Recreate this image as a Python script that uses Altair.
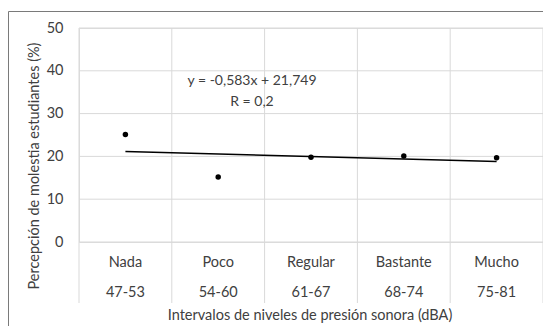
import altair as alt
import pandas as pd

categories = ["Nada", "Poco", "Regular", "Bastante", "Mucho"]
ranges = ["47-53", "54-60", "61-67", "68-74", "75-81"]
positions = [1, 2, 3, 4, 5]
values = [25.1, 15.2, 19.8, 20.1, 19.7]
boundaries = [0.5, 1.5, 2.5, 3.5, 4.5, 5.5]
y_ticks = [0, 10, 20, 30, 40, 50]
equation = "y = -0,583x + 21,749"
r_text = "R = 0,2"
x_title = "Intervalos de niveles de presión sonora (dBA)"
y_title = "Percepción de molestia estudiantes (%)"

FONT = "Lato"
TXT = "#404040"
GRID = "#d9d9d9"
FS = 14.5

df = pd.DataFrame({"x": positions, "v": values, "cat": categories, "rng": ranges})
bdf = pd.DataFrame({"b": boundaries})

xs = alt.Scale(domain=[0.5, 5.5], nice=False)
ys = alt.Scale(domain=[0, 50], nice=False)

W, H = 464, 214

frame = alt.Chart(pd.DataFrame({"k": [0]})).mark_rect(
    fillOpacity=0, stroke="#7a7a7a", strokeWidth=1
).encode(
    x=alt.value(-70.5), x2=alt.value(W + 40), y=alt.value(-16.5), y2=alt.value(400)
)

hgrid = alt.Chart(pd.DataFrame({"t": y_ticks})).mark_rule(color=GRID, strokeWidth=1).encode(
    y=alt.Y("t:Q", scale=ys, axis=alt.Axis(values=y_ticks, grid=False, ticks=False, domain=False,
                                            labelPadding=16, labelFontSize=FS, labelFont=FONT,
                                            labelColor=TXT, title=None, zindex=1)),
    x=alt.value(0), x2=alt.value(W),
)

vgrid = alt.Chart(bdf).mark_rule(color=GRID, strokeWidth=1).encode(
    x=alt.X("b:Q", scale=xs, axis=None),
    y=alt.value(0), y2=alt.value(275),
)

trend = alt.Chart(df).transform_regression("x", "v", extent=[1, 5]).mark_line(
    color="black", strokeWidth=1.6
).encode(
    x=alt.X("x:Q", scale=xs, axis=None),
    y=alt.Y("v:Q", scale=ys),
)

pts = alt.Chart(df).mark_circle(color="black", opacity=1, size=30).encode(
    x=alt.X("x:Q", scale=xs, axis=None),
    y=alt.Y("v:Q", scale=ys),
)

cat_lbl = alt.Chart(df).mark_text(font=FONT, fontSize=FS, color=TXT, baseline="middle").encode(
    x=alt.X("x:Q", scale=xs, axis=None), y=alt.value(235), text="cat:N"
)
rng_lbl = alt.Chart(df).mark_text(font=FONT, fontSize=FS, color=TXT, baseline="middle").encode(
    x=alt.X("x:Q", scale=xs, axis=None), y=alt.value(265), text="rng:N"
)

ann = alt.Chart(pd.DataFrame({"t": [equation, r_text], "yy": [53, 74]})).mark_text(
    font=FONT, fontSize=14, color=TXT, baseline="middle"
).encode(x=alt.value(173), y=alt.Y("yy:Q", scale=None), text="t:N")

xt = alt.Chart(pd.DataFrame({"t": [x_title]})).mark_text(
    font=FONT, fontSize=FS, color=TXT, baseline="middle"
).encode(x=alt.value(231), y=alt.value(288), text="t:N")

yt = alt.Chart(pd.DataFrame({"t": [y_title]})).mark_text(
    font=FONT, fontSize=FS, color=TXT, baseline="middle", angle=270
).encode(x=alt.value(-44), y=alt.value(138), text="t:N")

chart = alt.layer(
    frame, hgrid, vgrid, trend, pts, cat_lbl, rng_lbl, ann, xt, yt
).properties(
    width=W, height=H,
    autosize=alt.AutoSizeParams(type="none"),
    padding={"left": 71, "top": 20, "right": 0, "bottom": 84},
).configure_view(stroke=None).configure(background="white")

chart.save("out.html", embed_options={"renderer": "svg", "actions": False})
